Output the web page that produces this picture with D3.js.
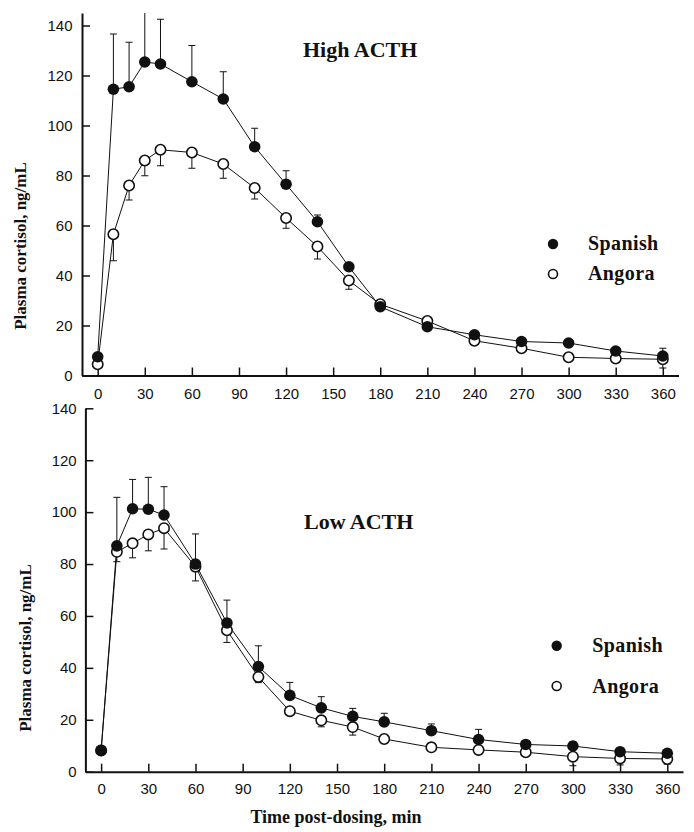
<!DOCTYPE html>
<html>
<head>
<meta charset="utf-8">
<script src="https://cdn.jsdelivr.net/npm/d3@7"></script>
<style>
  html, body { margin: 0; padding: 0; background: #fff; }
  svg { display: block; }
  .tick text { font-family: "Liberation Sans", Arial, sans-serif; font-size: 15px; fill: #111; }
  .serif { font-family: "Liberation Serif", "Times New Roman", serif; font-weight: bold; fill: #111; }
</style>
</head>
<body>
<svg id="chart" width="694" height="832"></svg>
<script>
// ---- data ----
const times = [0, 10, 20, 30, 40, 60, 80, 100, 120, 140, 160, 180, 210, 240, 270, 300, 330, 360];
const xTicks = [0, 30, 60, 90, 120, 150, 180, 210, 240, 270, 300, 330, 360];
const yTicks = [0, 20, 40, 60, 80, 100, 120, 140];

const highSpanish    = [7.5, 114.5, 115.5, 125.4, 124.6, 117.5, 110.6, 91.5, 76.5, 61.5, 43.5, 27.5, 19.5, 16.3, 13.6, 13.0, 9.8, 7.8];
const highSpanishErr = [0.5, 22.1, 17.8, 24.0, 17.9, 14.5, 10.9, 7.4, 5.4, 2.7, 1.5, 1.0, 1.0, 1.0, 0.8, 0.8, 0.8, 3.1];
const highAngora     = [4.5, 56.5, 76.0, 86.0, 90.3, 89.2, 84.6, 75.0, 63.0, 51.6, 38.0, 28.5, 21.8, 13.9, 10.9, 7.3, 6.8, 6.5];
const highAngoraErr  = [1.0, 10.6, 5.8, 6.1, 6.4, 6.3, 5.7, 4.4, 4.1, 5.0, 3.5, 1.0, 1.0, 1.0, 1.0, 1.0, 1.0, 3.5];

const lowSpanish     = [8.2, 87.0, 101.3, 101.1, 98.9, 80.0, 57.3, 40.5, 29.4, 24.6, 21.3, 19.2, 15.8, 12.4, 10.5, 9.9, 7.7, 7.1];
const lowSpanishErr  = [0, 18.7, 11.3, 12.3, 10.9, 11.6, 8.8, 8.0, 5.0, 4.3, 3.1, 3.3, 2.6, 3.9, 1.2, 1.6, 0.8, 0.8];
const lowAngora      = [8.2, 84.7, 88.0, 91.4, 93.8, 79.0, 54.5, 36.5, 23.3, 19.8, 17.2, 12.6, 9.4, 8.4, 7.5, 5.8, 5.1, 4.9];
const lowAngoraErr   = [0, 3.8, 5.6, 6.3, 8.0, 5.5, 4.7, 2.2, 1.0, 2.5, 3.1, 1.0, 1.0, 1.0, 1.0, 3.5, 2.5, 2.0];

const seriesNames = ["Spanish", "Angora"];
const yLabel = "Plasma cortisol, ng/mL";
const xLabel = "Time post-dosing, min";

// ---- layout ----
const svg = d3.select("#chart");

const panels = [
  {
    id: "high", title: "High ACTH",
    spanish: highSpanish, spanishErr: highSpanishErr, angora: highAngora, angoraErr: highAngoraErr,
    xRange: [82, 678.5], yDomain: [0, 145], yRange: [375.5, 13],
    titlePos: [303, 57], legend: { cx: 553, tx: 588, y1: 244, y2: 274, b1: 250, b2: 280 },
    yLabelPos: [26, 246], xPad: 13, yPad: 9.5
  },
  {
    id: "low", title: "Low ACTH",
    spanish: lowSpanish, spanishErr: lowSpanishErr, angora: lowAngora, angoraErr: lowAngoraErr,
    xRange: [85.4, 683], yDomain: [0, 140], yRange: [771.7, 408.3],
    titlePos: [304, 529], legend: { cx: 556.7, tx: 592.3, y1: 645.7, y2: 686, b1: 652, b2: 692.5 },
    yLabelPos: [31, 648], xPad: 12, yPad: 8.7
  }
];

panels.forEach(p => {
  const x = d3.scaleLinear().domain([-10, 370]).range(p.xRange);
  const y = d3.scaleLinear().domain(p.yDomain).range(p.yRange);
  const g = svg.append("g");

  // clip
  svg.append("clipPath").attr("id", "clip-" + p.id)
    .append("rect")
    .attr("x", p.xRange[0]).attr("y", p.yRange[1])
    .attr("width", p.xRange[1] - p.xRange[0])
    .attr("height", p.yRange[0] - p.yRange[1]);

  // axes
  const xAxis = d3.axisBottom(x).tickValues(xTicks).tickSizeInner(-8).tickSizeOuter(0).tickPadding(p.xPad);
  const yAxis = d3.axisLeft(y).tickValues(yTicks).tickSizeInner(-8).tickSizeOuter(0).tickPadding(p.yPad);

  const gx = g.append("g").attr("transform", `translate(0,${p.yRange[0]})`).call(xAxis);
  const gy = g.append("g").attr("transform", `translate(${p.xRange[0]},0)`).call(yAxis);
  [gx, gy].forEach(a => {
    a.select(".domain").attr("stroke", "#111").attr("stroke-width", 2);
    a.selectAll(".tick line").attr("stroke", "#111").attr("stroke-width", 1.5);
  });

  const plot = g.append("g").attr("clip-path", `url(#clip-${p.id})`);
  const line = d3.line().x((d, i) => x(times[i])).y(d => y(d));

  // lines
  [p.angora, p.spanish].forEach(s => {
    plot.append("path").datum(s).attr("d", line)
      .attr("fill", "none").attr("stroke", "#111").attr("stroke-width", 1);
  });

  // error bars
  const cap = 3.5;
  function errBars(vals, errs, dir) {
    const eg = plot.append("g").attr("stroke", "#111").attr("stroke-width", 1);
    vals.forEach((v, i) => {
      if (!errs[i]) return;
      const end = v + dir * errs[i];
      eg.append("line").attr("x1", x(times[i])).attr("x2", x(times[i]))
        .attr("y1", y(v)).attr("y2", y(end));
      eg.append("line").attr("x1", x(times[i]) - cap).attr("x2", x(times[i]) + cap)
        .attr("y1", y(end)).attr("y2", y(end));
    });
  }
  errBars(p.spanish, p.spanishErr, 1);
  errBars(p.angora, p.angoraErr, -1);

  // markers
  plot.append("g").selectAll("circle").data(p.angora).join("circle")
    .attr("cx", (d, i) => x(times[i])).attr("cy", d => y(d)).attr("r", 5.2)
    .attr("fill", "#fff").attr("stroke", "#111").attr("stroke-width", 1.6);
  plot.append("g").selectAll("circle").data(p.spanish).join("circle")
    .attr("cx", (d, i) => x(times[i])).attr("cy", d => y(d)).attr("r", 5.8)
    .attr("fill", "#111");

  // title
  g.append("text").attr("class", "serif").attr("x", p.titlePos[0]).attr("y", p.titlePos[1])
    .attr("font-size", 22).text(p.title);

  // legend
  const L = p.legend;
  g.append("circle").attr("cx", L.cx).attr("cy", L.y1).attr("r", 5.2).attr("fill", "#111");
  g.append("circle").attr("cx", L.cx).attr("cy", L.y2).attr("r", 4.5)
    .attr("fill", "#fff").attr("stroke", "#111").attr("stroke-width", 1.6);
  g.append("text").attr("class", "serif").attr("x", L.tx).attr("y", L.b1)
    .attr("font-size", 20).attr("letter-spacing", 0.4).text(seriesNames[0]);
  g.append("text").attr("class", "serif").attr("x", L.tx).attr("y", L.b2)
    .attr("font-size", 20).attr("letter-spacing", 0.4).text(seriesNames[1]);

  // y label
  g.append("text").attr("class", "serif")
    .attr("transform", `translate(${p.yLabelPos[0]},${p.yLabelPos[1]}) rotate(-90)`)
    .attr("text-anchor", "middle").attr("font-size", 17).text(yLabel);
});

// x label
svg.append("text").attr("class", "serif").attr("x", 336).attr("y", 823)
  .attr("text-anchor", "middle").attr("font-size", 18).text(xLabel);
</script>
</body>
</html>
